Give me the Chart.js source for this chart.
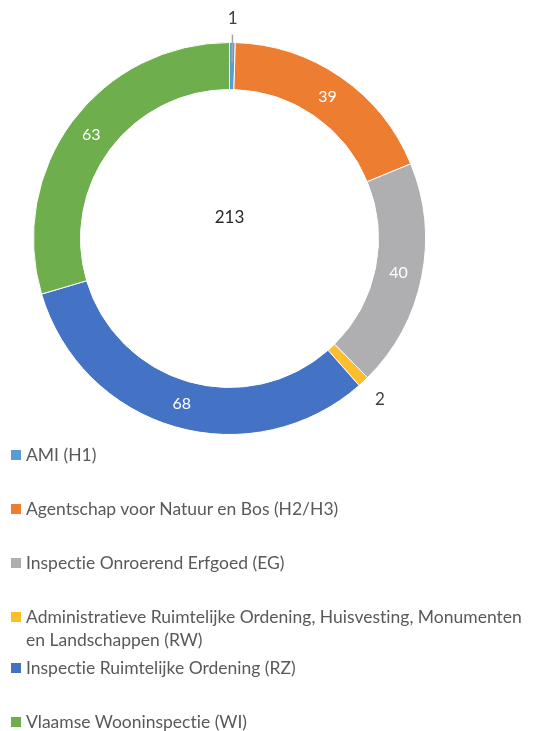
<!DOCTYPE html>
<html>
<head>
<meta charset="utf-8">
<script src="https://cdn.jsdelivr.net/npm/chart.js@4.4.0/dist/chart.umd.min.js"></script>
<style>
  html, body { margin: 0; padding: 0; background: #fff; }
  #wrap { position: relative; width: 535px; height: 731px; overflow: hidden; }
  #c { position: absolute; left: 0; top: 0; }
  .lg { position: absolute; left: 11px; font-family: Lato, "Open Sans", sans-serif; font-size: 17.5px; color: #595959; line-height: 23px; font-variant-ligatures: none; }
  .lg .sw { position: absolute; left: 0; top: 7px; width: 10px; height: 10px; }
  .lg .tx { margin-left: 15px; display: block; white-space: nowrap; }
</style>
</head>
<body>
<div id="wrap">
  <canvas id="c" width="535" height="731"></canvas>
</div>
<script>
const categories = [
  "AMI (H1)",
  "Agentschap voor Natuur en Bos (H2/H3)",
  "Inspectie Onroerend Erfgoed (EG)",
  "Administratieve Ruimtelijke Ordening, Huisvesting, Monumenten\nen Landschappen (RW)",
  "Inspectie Ruimtelijke Ordening (RZ)",
  "Vlaamse Wooninspectie (WI)"
];
const values = [1, 39, 40, 2, 68, 63];
const totalLabel = "213";
const colors = ["#5B9BD5", "#ED7D31", "#AFAFB1", "#FDBE2C", "#4472C4", "#6EAE4C"];
const legendTops = [443, 497, 551, 605, 656, 710];

const labelPlugin = {
  id: 'labels',
  afterDatasetsDraw(chart) {
    const ctx = chart.ctx;
    const meta = chart.getDatasetMeta(0);
    ctx.save();
    meta.data.forEach((arc, i) => {
      const p = arc.getProps(['x','y','startAngle','endAngle','innerRadius','outerRadius'], true);
      const mid = (p.startAngle + p.endAngle) / 2;
      const v = values[i];
      ctx.textAlign = 'center';
      ctx.textBaseline = 'middle';
      if (v >= 5) {
        const r = (p.innerRadius + p.outerRadius) / 2;
        ctx.fillStyle = '#ffffff';
        ctx.font = '16px Lato, "Open Sans", sans-serif';
        ctx.fillText(String(v), p.x + r * Math.cos(mid), p.y + r * Math.sin(mid));
      } else {
        const r = p.outerRadius + 24;
        if (i === 0) {
          ctx.strokeStyle = '#A6A6A6';
          ctx.lineWidth = 1.5;
          ctx.beginPath();
          ctx.moveTo(p.x + (p.outerRadius + 8) * Math.cos(mid), p.y + (p.outerRadius + 8) * Math.sin(mid));
          ctx.lineTo(p.x + (p.outerRadius - 20) * Math.cos(mid), p.y + (p.outerRadius - 20) * Math.sin(mid));
          ctx.stroke();
        }
        ctx.fillStyle = '#404040';
        ctx.font = '17px Lato, "Open Sans", sans-serif';
        ctx.fillText(String(v), p.x + r * Math.cos(mid), p.y + r * Math.sin(mid));
      }
    });
    const m0 = meta.data[0];
    ctx.fillStyle = '#262626';
    ctx.font = '17px Lato, "Open Sans", sans-serif';
    ctx.textAlign = 'center';
    ctx.textBaseline = 'middle';
    ctx.fillText(totalLabel, m0.x, m0.y - 21);
    ctx.restore();
  }
};

new Chart(document.getElementById('c'), {
  type: 'doughnut',
  data: {
    labels: categories,
    datasets: [{
      data: values,
      backgroundColor: colors,
      borderColor: '#ffffff',
      borderWidth: 1
    }]
  },
  options: {
    responsive: false,
    animation: false,
    cutout: '76%',
    layout: { padding: { left: 33, right: 109, top: 42, bottom: 296 } },
    plugins: {
      legend: { display: false },
      tooltip: { enabled: false }
    }
  },
  plugins: [labelPlugin]
});

const wrap = document.getElementById('wrap');
categories.forEach((name, i) => {
  const d = document.createElement('div');
  d.className = 'lg';
  d.style.top = legendTops[i] + 'px';
  const sw = document.createElement('span');
  sw.className = 'sw';
  sw.style.background = colors[i];
  d.appendChild(sw);
  name.split('\n').forEach(line => {
    const t = document.createElement('span');
    t.className = 'tx';
    t.textContent = line;
    d.appendChild(t);
  });
  wrap.appendChild(d);
});
</script>
</body>
</html>
